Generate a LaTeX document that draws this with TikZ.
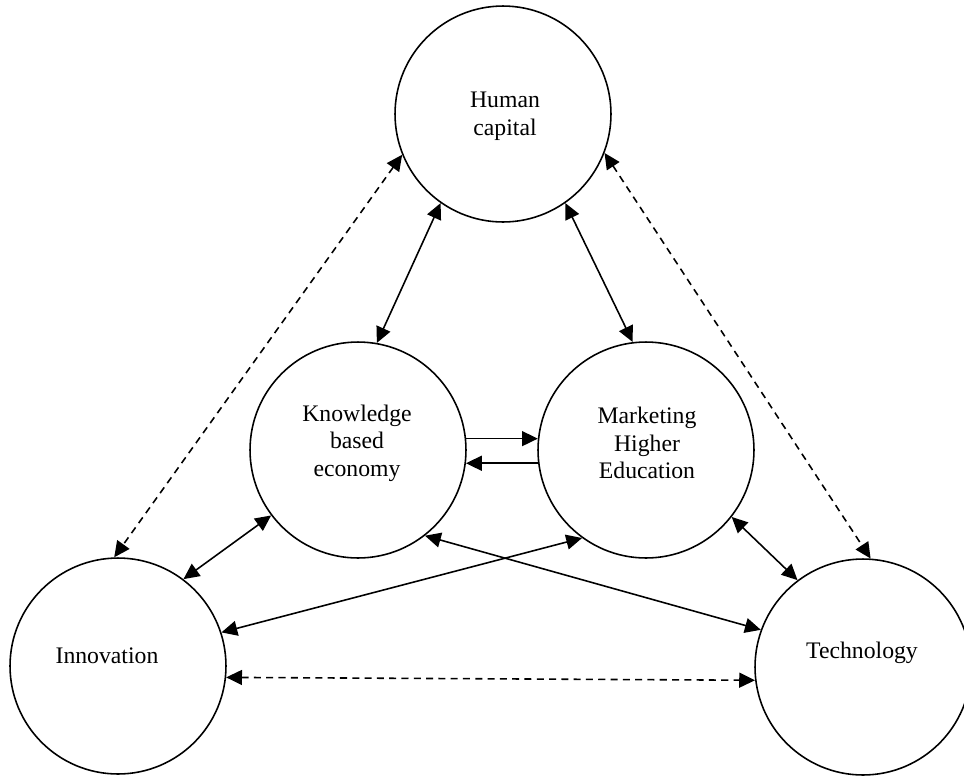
\documentclass[tikz,border=0pt]{standalone}
\usepackage{fontspec}
\setmainfont{Liberation Serif}
\usetikzlibrary{arrows.meta}
\tikzset{
    bubble/.style={draw, circle, line width=.9pt, minimum size=4.32cm,
        inner sep=0pt},
    bubbletext/.style={align=center, font=\fontsize{13.5}{15.7}\selectfont},
    link/.style={{Triangle[length=9pt, width=8.5pt]}-{Triangle[length=9pt, width=8.5pt]},
        line width=.9pt},
    onelink/.style={-{Triangle[length=9pt, width=8.5pt]}, line width=.9pt},
    dashlink/.style={link, dash pattern=on 4pt off 3pt},
}
\begin{document}
\begin{tikzpicture}[x=.02cm, y=-.02cm]
        \useasboundingbox (0, 0) rectangle (964, 775); % Page size in px

        \node[bubble] (hc) at (503, 114) {};
        \node[bubble] (kbe) at (358, 450) {};
        \node[bubble] (mhe) at (646, 450) {};
        \node[bubble] (inn) at (118, 666) {};
        \node[bubble] (tech) at (863, 667) {};

        \node[bubbletext] (hctext) at (505, 116) {Human\\capital};
        \node[bubbletext] (kbetext) at (357, 443) {Knowledge\\based\\economy};
        \node[bubbletext] (mhetext) at (647, 443) {Marketing\\Higher\\Education};
        \node[bubbletext] (inntext) at (107, 656) {Innovation};
        \node[bubbletext] (techtext) at (862, 653) {Technology};

        \draw[link] (hc.235) -- (kbe.80); % Top triangle
        \draw[link] (hc.305) -- (mhe.97);
        \draw[dashlink] (hc.202) -- (inn.92);
        \draw[dashlink] (hc.339) -- (tech.86);

        \draw[onelink] (kbe.6) -- (mhe.174); % Middle pair
        \draw[onelink] (mhe.187) -- (kbe.353);

        \draw[link] (kbe.217) -- (inn.53); % Lower links
        \draw[link] (mhe.322) -- (tech.127);
        \draw[link] (kbe.308) -- (tech.160);
        \draw[link] (mhe.234) -- (inn.18);
        \draw[dashlink] (inn.-6) -- (tech.187);
    \end{tikzpicture}
\end{document}
